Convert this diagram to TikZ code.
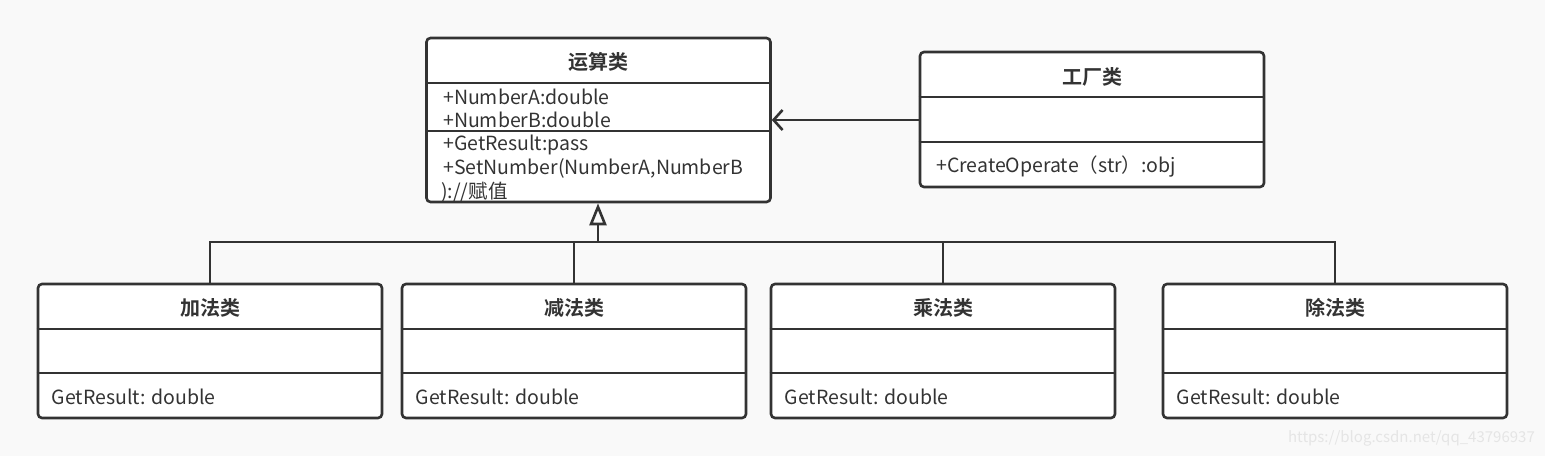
\documentclass[tikz,border=0pt]{standalone}
\usepackage{fontspec}
\setmainfont{Noto Sans CJK SC}[BoldFont={Noto Sans CJK SC Bold}]
\usetikzlibrary{arrows.meta}
\definecolor{ink}{HTML}{333333}
\definecolor{paper}{HTML}{F9F9F9}

\begin{document}
\begin{tikzpicture}[x=1pt,y=-1pt]
    \tikzset{
    cls/.style={draw=ink,line width=2.6pt,rounded corners=4pt,fill=white,minimum width=344pt,inner sep=0pt},
    ttl/.style={font=\fontsize{20}{22}\selectfont\bfseries,text=ink,inner sep=0pt},
    txt/.style={font=\fontsize{19.5}{22}\selectfont,text=ink,inner sep=0pt,anchor=west},
    sep/.style={draw=ink,line width=2.6pt},
    ln/.style={draw=ink,line width=2.6pt},
    }
    \fill[paper] (0,0) rectangle (1545,456);
    \useasboundingbox (0,0) rectangle (1545,456);

    % base class
    \node[cls,minimum height=164pt] (op) at (598.5,120) {};
    \node[ttl] (opt) at (598.5,62) {运算类};
    \draw[sep] (op.west |- 0,83) -- (op.east |- 0,83);
    \draw[sep] (op.west |- 0,131) -- (op.east |- 0,131);
    \node[txt] (a1) at (443,97) {+NumberA:double};
    \node[txt] (a2) at (443,120) {+NumberB:double};
    \node[txt] (m1) at (443,145) {+GetResult:pass};
    \node[txt] (m2) at (443,168) {+SetNumber(NumberA,NumberB};
    \node[txt] (m3) at (441,192) {):/​/赋值};

    % factory
    \node[cls,minimum height=135pt] (fac) at (1092,119.5) {};
    \node[ttl] (fact) at (1092,77) {工厂类};
    \draw[sep] (fac.west |- 0,97) -- (fac.east |- 0,97);
    \draw[sep] (fac.west |- 0,142) -- (fac.east |- 0,142);
    \node[txt] (f1) at (936,167) {+CreateOperate（str）:obj};

    \draw[ln,-{Straight Barb[length=9pt,width=20pt,line width=2.6pt]}] (fac.west |- 0,120) -- (op.east |- 0,120);

    % subclasses
    \foreach \nm/\cx/\lbl in {add/210/加法类, sub/574/减法类, mul/943/乘法类, dvd/1335/除法类}{
        \node[cls,minimum height=134pt] (\nm) at (\cx,351) {};
        \node[ttl] (\nm t) at (\cx,308) {\lbl};
        \draw[sep] (\nm.west |- 0,329) -- (\nm.east |- 0,329);
        \draw[sep] (\nm.west |- 0,373) -- (\nm.east |- 0,373);
        \node[txt] (\nm m) at ([xshift=15pt]\nm.west |- 0,397) {GetResult: double};
    }

    \coordinate (bus) at (598,242);
    \draw[ln] (add.north) -- (add.north |- bus) -- (dvd.north |- bus) -- (dvd.north);
    \draw[ln] (sub.north) -- (sub.north |- bus);
    \draw[ln] (mul.north) -- (mul.north |- bus);
    \draw[ln,-{Triangle[open,length=22pt,width=17pt,line width=2.6pt]}] (bus) -- (bus |- op.south);

    \node[font=\fontsize{15}{17}\selectfont,text=black!10,inner sep=0pt,anchor=east] (wm) at (1535,438) {https://blog.csdn.net/qq\_43796937};
\end{tikzpicture}
\end{document}
